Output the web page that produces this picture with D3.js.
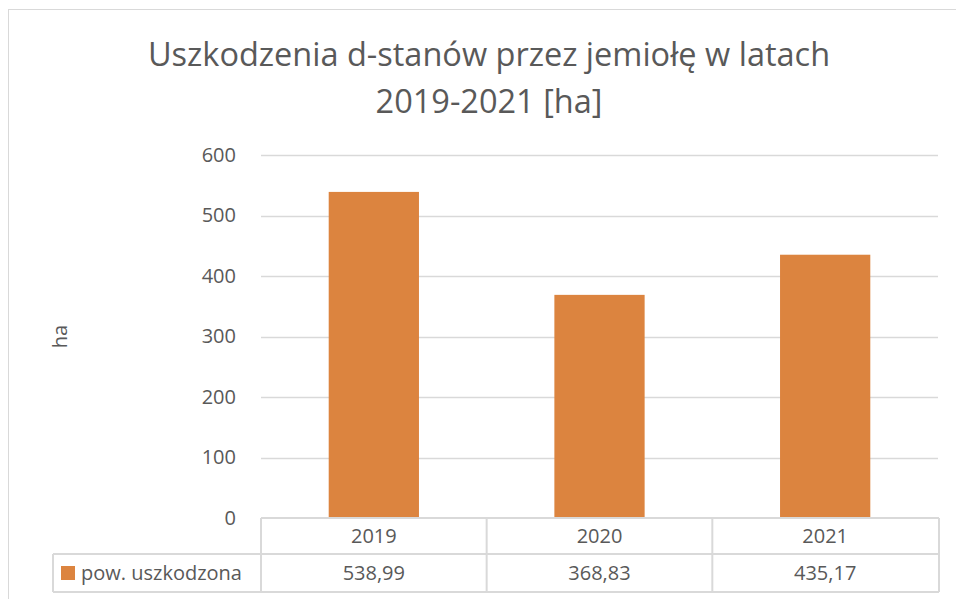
<!DOCTYPE html>
<html>
<head>
<meta charset="utf-8">
<script src="https://cdn.jsdelivr.net/npm/d3@7"></script>
<style>
  body { margin: 0; background: #fff; }
  text { font-family: "Open Sans", sans-serif; fill: #595959; }
</style>
</head>
<body>
<div class="chart"></div>
<script>
// Data
var years = ["2019", "2020", "2021"];
var values = [538.99, 368.83, 435.17];
var valueLabels = ["538,99", "368,83", "435,17"];
var yTicks = [0, 100, 200, 300, 400, 500, 600];
var seriesName = "pow. uszkodzona";
var titleLines = ["Uszkodzenia d-stanów przez jemiołę w latach", "2019-2021 [ha]"];

var width = 956, height = 599;
var plot = { left: 261, right: 938, top: 155, bottom: 518 };
var rowH1 = 36, rowH2 = 38, tableLeft = 53;
var barColor = "#DC843F";
var lineColor = "#D9D9D9";
var fontFamily = "\"Open Sans\", sans-serif";
var labelSize = "20px";

var svg = d3.select(".chart").append("svg")
  .attr("width", width)
  .attr("height", height);

// Outer chart border
svg.append("rect")
  .attr("x", 8.5).attr("y", 9.5)
  .attr("width", 1000).attr("height", 1000)
  .attr("fill", "none")
  .attr("stroke", lineColor)
  .attr("stroke-width", 1);

// Scales
var x = d3.scaleBand()
  .domain(years)
  .range([plot.left, plot.right])
  .paddingInner(0.6)
  .paddingOuter(0.3);

var xCell = d3.scaleBand()
  .domain(years)
  .range([plot.left, plot.right]);

var y = d3.scaleLinear()
  .domain([0, 600])
  .range([plot.bottom, plot.top]);

// Gridlines
svg.append("g")
  .selectAll("line")
  .data(yTicks.slice(1))
  .enter().append("line")
  .attr("x1", plot.left).attr("x2", plot.right)
  .attr("y1", function (d) { return Math.round(y(d)) + 0.5; })
  .attr("y2", function (d) { return Math.round(y(d)) + 0.5; })
  .attr("stroke", lineColor)
  .attr("stroke-width", 1.3);

// Y axis labels
var yAxis = svg.append("g")
  .attr("transform", "translate(" + (plot.left - 25) + ",0)")
  .call(d3.axisLeft(y).tickValues(yTicks).tickSize(0).tickPadding(0));
yAxis.select(".domain").remove();
yAxis.selectAll("text")
  .style("font-size", labelSize)
  .style("fill", "#595959")
  .style("font-family", fontFamily);

// Y title
svg.append("text")
  .attr("transform", "translate(67," + ((plot.top + plot.bottom) / 2) + ") rotate(-90)")
  .attr("text-anchor", "middle")
  .style("font-size", labelSize)
  .text("ha");

// Bars
svg.append("g")
  .selectAll("rect")
  .data(values)
  .enter().append("rect")
  .attr("x", function (d, i) { return x(years[i]); })
  .attr("y", function (d) { return y(d); })
  .attr("width", x.bandwidth())
  .attr("height", function (d) { return y(0) - y(d); })
  .attr("fill", barColor);

// Data table
var t = svg.append("g")
  .attr("stroke", lineColor)
  .attr("stroke-width", 2)
  .attr("fill", "none");

var rowTop = plot.bottom, rowMid = plot.bottom + rowH1, rowBot = rowMid + rowH2;
t.append("line").attr("x1", plot.left).attr("x2", plot.right + 1).attr("y1", rowTop).attr("y2", rowTop);
t.append("line").attr("x1", tableLeft).attr("x2", plot.right + 1).attr("y1", rowMid).attr("y2", rowMid);
t.append("line").attr("x1", tableLeft).attr("x2", plot.right + 1).attr("y1", rowBot).attr("y2", rowBot);
t.append("line").attr("x1", tableLeft).attr("x2", tableLeft).attr("y1", rowMid).attr("y2", rowBot);
t.selectAll(".vline")
  .data(years.concat(["end"]))
  .enter().append("line")
  .attr("class", "vline")
  .attr("x1", function (d) { return d === "end" ? plot.right + 1 : xCell(d); })
  .attr("x2", function (d) { return d === "end" ? plot.right + 1 : xCell(d); })
  .attr("y1", rowTop).attr("y2", rowBot);

// Header cells
svg.append("g")
  .selectAll("text")
  .data(years)
  .enter().append("text")
  .attr("x", function (d) { return xCell(d) + xCell.bandwidth() / 2; })
  .attr("y", rowTop + rowH1 / 2)
  .attr("dy", "0.35em")
  .attr("text-anchor", "middle")
  .style("font-size", labelSize)
  .text(function (d) { return d; });

// Value cells
svg.append("g")
  .selectAll("text")
  .data(valueLabels)
  .enter().append("text")
  .attr("x", function (d, i) { return xCell(years[i]) + xCell.bandwidth() / 2; })
  .attr("y", rowMid + rowH2 / 2)
  .attr("dy", "0.35em")
  .attr("text-anchor", "middle")
  .style("font-size", labelSize)
  .text(function (d) { return d; });

// Legend key in table
svg.append("rect")
  .attr("x", 61).attr("y", 566)
  .attr("width", 14).attr("height", 14)
  .attr("fill", barColor);
svg.append("text")
  .attr("x", 81)
  .attr("y", rowMid + rowH2 / 2)
  .attr("dy", "0.35em")
  .style("font-size", labelSize)
  .text(seriesName);

// Title
svg.append("g")
  .selectAll("text")
  .data(titleLines)
  .enter().append("text")
  .attr("x", 489)
  .attr("y", function (d, i) { return 66 + i * 47; })
  .attr("text-anchor", "middle")
  .style("font-size", "32.5px")
  .text(function (d) { return d; });
</script>
</body>
</html>
